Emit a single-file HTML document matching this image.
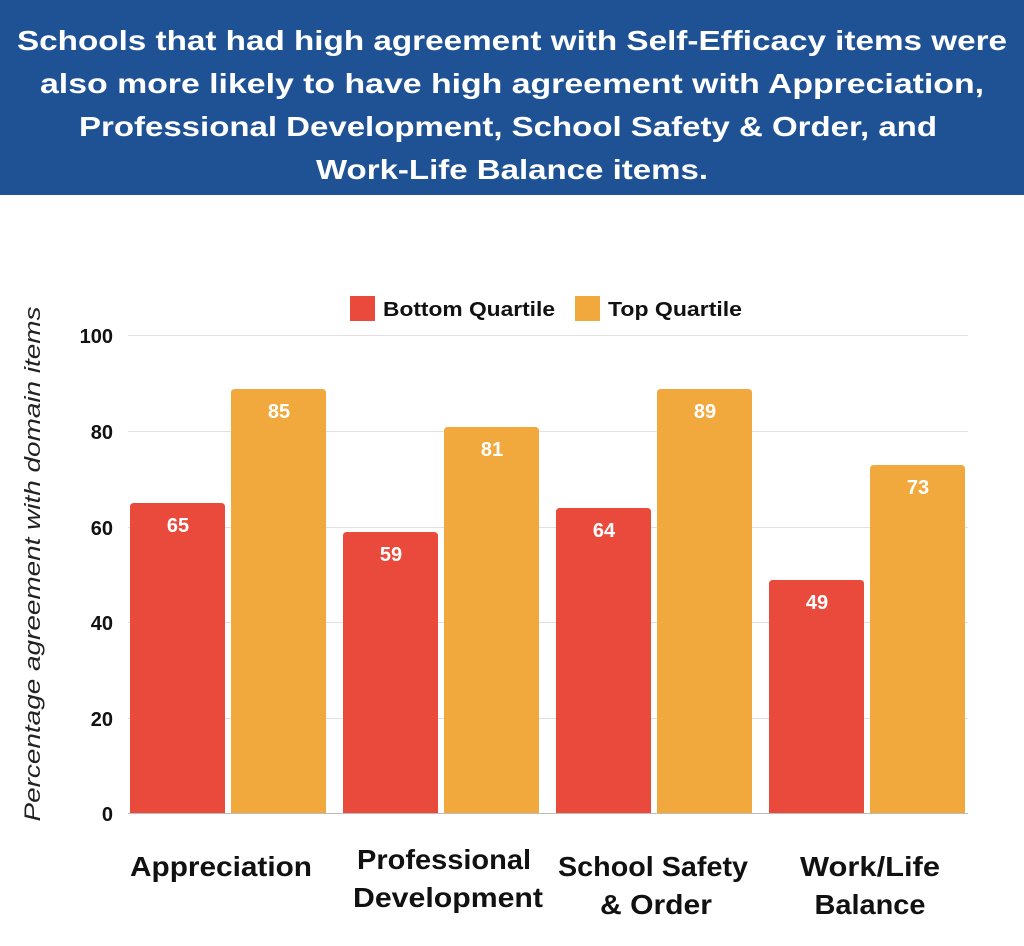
<!DOCTYPE html>
<html><head><style>body{margin:0;background:#fff}svg{display:block}</style></head><body>
<svg width="1024" height="946" xmlns="http://www.w3.org/2000/svg" font-family="Liberation Sans, sans-serif">
<rect x="0" y="0" width="1024" height="195" fill="#1f5295"/>
<g fill="#fff" font-weight="bold" font-size="28" text-anchor="middle">
<text x="512" y="50" textLength="990" lengthAdjust="spacingAndGlyphs">Schools that had high agreement with Self-Efficacy items were</text>
<text x="512" y="93" textLength="944" lengthAdjust="spacingAndGlyphs">also more likely to have high agreement with Appreciation,</text>
<text x="508" y="136" textLength="858" lengthAdjust="spacingAndGlyphs">Professional Development, School Safety &amp; Order, and</text>
<text x="512" y="179" textLength="392" lengthAdjust="spacingAndGlyphs">Work-Life Balance items.</text>
</g>
<g stroke="#e0e0e0" stroke-width="1">
<line x1="128" x2="968" y1="335.5" y2="335.5"/><line x1="128" x2="968" y1="431.5" y2="431.5"/>
<line x1="128" x2="968" y1="527.5" y2="527.5"/><line x1="128" x2="968" y1="622.5" y2="622.5"/>
<line x1="128" x2="968" y1="718.5" y2="718.5"/>
</g>
<line x1="128" x2="968" y1="813.5" y2="813.5" stroke="#bbb"/>
<g font-weight="bold" font-size="20" text-anchor="end" fill="#111">
<text x="113" y="343">100</text><text x="113" y="439">80</text><text x="113" y="535">60</text>
<text x="113" y="630">40</text><text x="113" y="726">20</text><text x="113" y="821">0</text>
</g>
<text transform="translate(40,564) rotate(-90)" text-anchor="middle" font-style="italic" font-size="22" fill="#222" textLength="515" lengthAdjust="spacingAndGlyphs">Percentage agreement with domain items</text>
<rect x="350" y="296" width="25" height="25" fill="#ea4a3c"/>
<text x="383" y="316" font-weight="bold" font-size="20" fill="#111" textLength="172" lengthAdjust="spacingAndGlyphs">Bottom Quartile</text>
<rect x="575" y="296" width="25" height="25" fill="#f1a93e"/>
<text x="608" y="316" font-weight="bold" font-size="20" fill="#111" textLength="134" lengthAdjust="spacingAndGlyphs">Top Quartile</text>
<g>
<path d="M130 813V507q0-4 4-4h87q4 0 4 4V813Z" fill="#ea4a3c"/>
<path d="M231 813V393q0-4 4-4h87q4 0 4 4V813Z" fill="#f1a93e"/>
<path d="M343 813V536q0-4 4-4h87q4 0 4 4V813Z" fill="#ea4a3c"/>
<path d="M444 813V431q0-4 4-4h87q4 0 4 4V813Z" fill="#f1a93e"/>
<path d="M556 813V512q0-4 4-4h87q4 0 4 4V813Z" fill="#ea4a3c"/>
<path d="M657 813V393q0-4 4-4h87q4 0 4 4V813Z" fill="#f1a93e"/>
<path d="M769 813V584q0-4 4-4h87q4 0 4 4V813Z" fill="#ea4a3c"/>
<path d="M870 813V469q0-4 4-4h87q4 0 4 4V813Z" fill="#f1a93e"/>
</g>
<g fill="#fff" font-weight="bold" font-size="20" text-anchor="middle">
<text x="178" y="532">65</text><text x="279" y="418">85</text>
<text x="391" y="561">59</text><text x="492" y="456">81</text>
<text x="604" y="537">64</text><text x="705" y="418">89</text>
<text x="817" y="609">49</text><text x="918" y="494">73</text>
</g>
<g font-weight="bold" font-size="28" text-anchor="middle" fill="#111">
<text x="221" y="876" textLength="182" lengthAdjust="spacingAndGlyphs">Appreciation</text>
<text x="444" y="869" textLength="174" lengthAdjust="spacingAndGlyphs">Professional</text>
<text x="448" y="907" textLength="190" lengthAdjust="spacingAndGlyphs">Development</text>
<text x="653" y="876" textLength="190" lengthAdjust="spacingAndGlyphs">School Safety</text>
<text x="656" y="914" textLength="112" lengthAdjust="spacingAndGlyphs">&amp; Order</text>
<text x="870" y="876" textLength="140" lengthAdjust="spacingAndGlyphs">Work/Life</text>
<text x="870" y="914" textLength="111" lengthAdjust="spacingAndGlyphs">Balance</text>
</g>
</svg>
</body></html>
